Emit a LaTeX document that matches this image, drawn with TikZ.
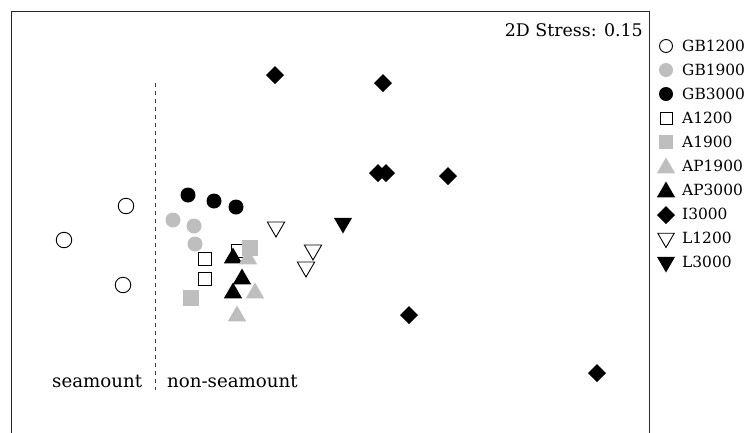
\documentclass[tikz,border=0pt]{standalone}
\usepackage{fontspec}
\setmainfont{DejaVu Serif}
\usetikzlibrary{shapes.geometric}
\definecolor{mgray}{RGB}{190,190,190}
\definecolor{frame}{RGB}{40,40,40}
\tikzset{
  mk/.style={inner sep=0pt, outer sep=0pt},
  oc/.style={mk, circle, draw=black, line width=0.9pt, fill=white, minimum size=15.5pt},
  gc/.style={mk, circle, fill=mgray, minimum size=15pt},
  bc/.style={mk, circle, fill=black, minimum size=15pt},
  osq/.style={mk, rectangle, draw=black, line width=0.9pt, fill=white, minimum size=12.5pt},
  gsq/.style={mk, rectangle, fill=mgray, minimum size=15.5pt},
  gtri/.style={mk, regular polygon, regular polygon sides=3, fill=mgray, minimum size=21pt},
  btri/.style={mk, regular polygon, regular polygon sides=3, fill=black, minimum size=21pt},
  otri/.style={mk, regular polygon, regular polygon sides=3, shape border rotate=180, draw=black, line width=0.9pt, fill=white, minimum size=20pt},
  binv/.style={mk, regular polygon, regular polygon sides=3, shape border rotate=180, fill=black, minimum size=21pt},
  dia/.style={mk, diamond, fill=black, minimum size=18pt, aspect=1},
  lgtext/.style={anchor=base west, font=\fontsize{15.4}{18}\selectfont, inner sep=0pt},
  lbl/.style={font=\fontsize{18.2}{21}\selectfont, inner sep=0pt},
}
\begin{document}
\begin{tikzpicture}[x=1pt, y=-1pt]
\useasboundingbox (0,0) rectangle (748,432);
\fill[white] (0,0) rectangle (748,432);
% frame (bottom edge lies outside the picture)
\draw[frame, line width=1pt] (11.5,445) -- (11.5,11.5) -- (649,11.5) -- (649,445);
% divider
\coordinate (dtop) at (155,83);
\coordinate (dbot) at (155,390);
\draw[black!75, line width=0.9pt, dash pattern=on 4pt off 4pt] (dtop) -- (dbot);
% labels
\node[lbl, anchor=base east, font=\fontsize{17.4}{20}\selectfont] (stress) at (643,36) {2D Stress: 0.15};
\node[lbl, anchor=base west] (sea) at (52,387) {seamount};
\node[lbl, anchor=base west] (nonsea) at (167,387) {non-seamount};
% I3000 diamonds
\node[dia] (i1) at (275,75) {};
\node[dia] (i2) at (383,83) {};
\node[dia] (i3) at (378,173) {};
\node[dia] (i4) at (386,173) {};
\node[dia] (i5) at (448,176) {};
\node[dia] (i6) at (409,315) {};
\node[dia] (i7) at (597,373) {};
% GB1200
\node[oc] (a1) at (126,206) {};
\node[oc] (a2) at (64,240) {};
\node[oc] (a3) at (123,285) {};
% GB1900
\node[gc] (b1) at (173,220) {};
\node[gc] (b2) at (194,226) {};
\node[gc] (b3) at (195,244) {};
% GB3000
\node[bc] (c1) at (188,195) {};
\node[bc] (c2) at (214,201) {};
\node[bc] (c3) at (236,207) {};
% A1200
\node[osq] (d1) at (238,251) {};
\node[osq] (d2) at (205,259) {};
\node[osq] (d3) at (205,279) {};
% AP3000
\node[btri] (f1) at (233,258) {};
% AP1900
\node[gtri] (g1) at (248,259) {};
% A1900
\node[gsq] (e1) at (250,248) {};
\node[gsq] (e2) at (191,298) {};
% AP1900
\node[gtri] (g2) at (255,293) {};
\node[gtri] (g3) at (237,316) {};
% AP3000
\node[btri] (f2) at (242,279) {};
\node[btri] (f3) at (233,293) {};
% L1200
\node[otri] (l1) at (276,227) {};
\node[otri] (l2) at (313,250) {};
\node[otri] (l3) at (306,267) {};
% L3000
\node[binv] (m1) at (343,223) {};
% legend
\node[oc, minimum size=13pt] (k1) at (666,46) {};
\node[gc, minimum size=14pt] (k2) at (666,70) {};
\node[bc, minimum size=14pt] (k3) at (666,94) {};
\node[osq, minimum size=12pt] (k4) at (666,118) {};
\node[gsq, minimum size=14.5pt] (k5) at (666,142) {};
\node[gtri] (k6) at (666,168) {};
\node[btri] (k7) at (666,192) {};
\node[dia] (k8) at (666,215) {};
\node[otri, minimum size=19pt] (k9) at (666,238) {};
\node[binv] (k10) at (666,262) {};
\node[lgtext] (t1) at (682,51.5) {GB1200};
\node[lgtext] (t2) at (682,75.5) {GB1900};
\node[lgtext] (t3) at (682,99.5) {GB3000};
\node[lgtext] (t4) at (682,123.5) {A1200};
\node[lgtext] (t5) at (682,147.5) {A1900};
\node[lgtext] (t6) at (682,171.5) {AP1900};
\node[lgtext] (t7) at (682,195.5) {AP3000};
\node[lgtext] (t8) at (682,219.5) {I3000};
\node[lgtext] (t9) at (682,243.5) {L1200};
\node[lgtext] (t10) at (682,267.5) {L3000};
\end{tikzpicture}
\end{document}
